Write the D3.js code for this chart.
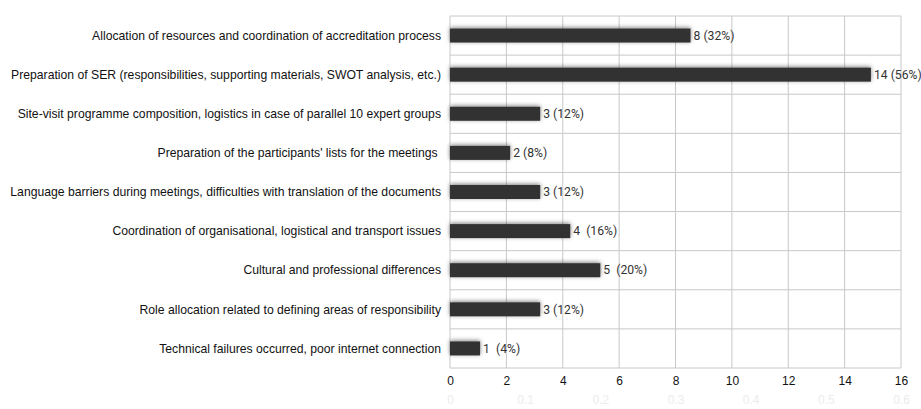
<!DOCTYPE html>
<html>
<head>
<meta charset="utf-8">
<script src="https://cdn.jsdelivr.net/npm/d3@7"></script>
<style>
  body { margin: 0; background: #fff; }
  svg text { white-space: pre; }
</style>
</head>
<body>
<div id="chart"></div>
<script>
// data
const categories = [
  "Allocation of resources and coordination of accreditation process",
  "Preparation of SER (responsibilities, supporting materials, SWOT analysis, etc.)",
  "Site-visit programme composition, logistics in case of parallel 10 expert groups",
  "Preparation of the participants' lists for the meetings ",
  "Language barriers during meetings, difficulties with translation of the documents",
  "Coordination of organisational, logistical and transport issues",
  "Cultural and professional differences",
  "Role allocation related to defining areas of responsibility",
  "Technical failures occurred, poor internet connection"
];
const counts = [8, 14, 3, 2, 3, 4, 5, 3, 1];
const shares = [0.32, 0.56, 0.12, 0.08, 0.12, 0.16, 0.20, 0.12, 0.04];
const valueLabels = ["8 (32%)", "14 (56%)", "3 (12%)", "2 (8%)", "3 (12%)", "4  (16%)", "5  (20%)", "3 (12%)", "1  (4%)"];
const countTicks = [0, 2, 4, 6, 8, 10, 12, 14, 16];
const shareTicks = [0, 0.1, 0.2, 0.3, 0.4, 0.5, 0.6];

const W = 921, H = 409;
const margin = { top: 16, right: 20, bottom: 41, left: 450 };
const width = W - margin.left - margin.right,
      height = H - margin.top - margin.bottom;

const svg = d3.select("#chart").append("svg")
    .attr("width", W)
    .attr("height", H)
  .append("g")
    .attr("transform", "translate(" + margin.left + "," + margin.top + ")");

const defs = svg.append("defs");
const f = defs.append("filter").attr("id", "shadow")
    .attr("x", "-20%").attr("y", "-80%").attr("width", "140%").attr("height", "260%");
f.append("feDropShadow")
    .attr("dx", 0).attr("dy", -1)
    .attr("stdDeviation", 2.2)
    .attr("flood-color", "#000").attr("flood-opacity", 0.5);

// scales
const xCount = d3.scaleLinear().domain([0, 16]).range([0, width]);
const xShare = d3.scaleLinear().domain([0, 0.6]).range([0, width]);
const y = d3.scaleBand().domain(categories).range([0, height]).paddingInner(0).paddingOuter(0);

// grid
svg.append("g").attr("class", "grid")
  .selectAll("line.v").data(countTicks).join("line")
    .attr("x1", d => xCount(d)).attr("x2", d => xCount(d))
    .attr("y1", 0).attr("y2", height)
    .attr("stroke", "#c8c8c8").attr("stroke-width", 1);

const bounds = d3.range(categories.length + 1).map(i => i * y.step());
svg.append("g").attr("class", "grid")
  .selectAll("line.h").data(bounds).join("line")
    .attr("x1", 0).attr("x2", width)
    .attr("y1", d => d).attr("y2", d => d)
    .attr("stroke", "#c8c8c8").attr("stroke-width", 1);

// category labels
svg.append("g")
  .selectAll("text").data(categories).join("text")
    .attr("x", -9)
    .attr("y", d => y(d) + y.bandwidth() / 2)
    .attr("dy", "0.35em")
    .attr("text-anchor", "end")
    .style("font-family", "Liberation Sans, Arial, sans-serif")
    .style("font-size", "12.2px")
    .attr("fill", "#111")
    .text(d => d);

// bars (plotted against the share axis)
const barH = 14;
svg.append("g")
  .selectAll("rect").data(categories).join("rect")
    .attr("x", 0)
    .attr("y", d => y(d) + y.bandwidth() / 2 - barH / 2)
    .attr("width", (d, i) => xShare(shares[i]))
    .attr("height", barH)
    .attr("fill", "#333")
    .attr("filter", "url(#shadow)");

// value labels
svg.append("g")
  .selectAll("text").data(categories).join("text")
    .attr("x", (d, i) => xShare(shares[i]) + 3)
    .attr("y", d => y(d) + y.bandwidth() / 2)
    .attr("dy", "0.35em")
    .style("font-family", "Roboto, sans-serif")
    .style("font-size", "12.2px")
    .attr("fill", "#333")
    .text((d, i) => valueLabels[i]);

// primary axis
const xAxis = d3.axisBottom(xCount).tickValues(countTicks).tickSize(0).tickPadding(8);
const gx = svg.append("g")
    .attr("transform", "translate(0," + height + ")")
    .call(xAxis);
gx.select(".domain").remove();
gx.selectAll("text")
    .style("font-family", "Liberation Sans, Arial, sans-serif")
    .style("font-size", "12px")
    .attr("fill", "#111");

// secondary axis, very faint
const xAxis2 = d3.axisBottom(xShare).tickValues(shareTicks).tickSize(0).tickPadding(27)
    .tickFormat(d3.format("~g"));
const gx2 = svg.append("g")
    .attr("transform", "translate(0," + height + ")")
    .call(xAxis2);
gx2.select(".domain").remove();
gx2.selectAll("text")
    .style("font-family", "Liberation Sans, Arial, sans-serif")
    .style("font-size", "12px")
    .attr("fill", "#ececec");
</script>
</body>
</html>
